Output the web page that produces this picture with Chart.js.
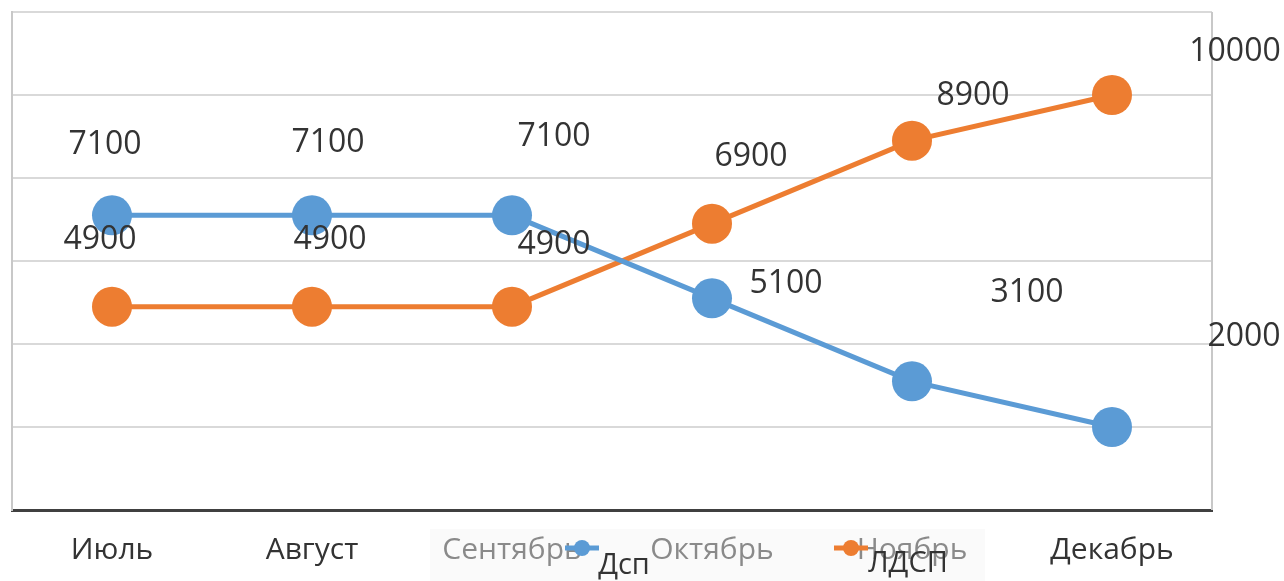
<!DOCTYPE html>
<html><head><meta charset="utf-8">
<script src="https://cdn.jsdelivr.net/npm/chart.js@4"></script>
<style>html,body{margin:0;padding:0;background:#fff}#w{width:1284px;height:581px}</style>
</head><body><div id="w"><canvas id="c" width="1284" height="581"></canvas></div>
<script>
const categories = ['Июль','Август','Сентябрь','Октябрь','Ноябрь','Декабрь'];
const dspValues = [7100, 7100, 7100, 5100, 3100, 2000];
const ldspValues = [4900, 4900, 4900, 6900, 8900, 10000];
const seriesNames = ['Дсп','ЛДСП'];
const yTicks = [0, 2000, 4000, 6000, 8000, 10000, 12000];

// label offsets (style only)
const labelOffsets = [
  [[-7,-70],[16,-72],[42,-78],[74,-14],[115,-88],[132,-90]],
  [[-12,-67],[18,-67],[42,-62],[39,-67],[61,-45],[123,-43]]
];
const FONT = '"Open Sans", sans-serif';

const decor = {
  id:'decor',
  beforeDatasetsDraw(chart){
    const {ctx, chartArea:a} = chart;
    ctx.save();
    ctx.strokeStyle='#c8c8c8'; ctx.lineWidth=2;
    ctx.beginPath(); ctx.moveTo(a.right,a.top); ctx.lineTo(a.right,a.bottom); ctx.stroke();
    ctx.restore();
  },
  afterDraw(chart){
    const {ctx} = chart;
    ctx.save();
    ctx.font = '32px '+FONT; ctx.fillStyle='#333333';
    ctx.textAlign='center'; ctx.textBaseline='middle';
    chart.data.datasets.forEach((ds,di)=>{
      const meta = chart.getDatasetMeta(di);
      meta.data.forEach((pt,i)=>{
        const o = labelOffsets[di][i];
        ctx.fillText(String(ds.data[i]), pt.x+o[0], pt.y+o[1]);
      });
    });
    ctx.fillStyle='rgba(243,243,243,0.45)';
    ctx.fillRect(430,529,555,52);
    const items=[{x:582,tx:624,ty:566,c:chart.data.datasets[0].borderColor,t:chart.data.datasets[0].label},
                 {x:851,tx:908,ty:564,c:chart.data.datasets[1].borderColor,t:chart.data.datasets[1].label}];
    items.forEach(it=>{
      ctx.strokeStyle=it.c; ctx.lineWidth=5;
      ctx.beginPath(); ctx.moveTo(it.x-17,548); ctx.lineTo(it.x+17,548); ctx.stroke();
      ctx.fillStyle=it.c; ctx.beginPath(); ctx.arc(it.x,548,8,0,Math.PI*2); ctx.fill();
      ctx.fillStyle='#333333'; ctx.font='29px '+FONT; ctx.textAlign='center';
      ctx.fillText(it.t,it.tx,it.ty);
    });
    ctx.restore();
  }
};

new Chart(document.getElementById('c'),{
  type:'line',
  data:{labels:categories,datasets:[
    {label:seriesNames[0],data:dspValues,borderColor:'#5B9BD5',backgroundColor:'#5B9BD5',borderWidth:5,pointRadius:20,pointHoverRadius:20,pointBorderWidth:0,tension:0},
    {label:seriesNames[1],data:ldspValues,borderColor:'#ED7D31',backgroundColor:'#ED7D31',borderWidth:5,pointRadius:20,pointHoverRadius:20,pointBorderWidth:0,tension:0}
  ]},
  options:{
    responsive:false,animation:false,
    layout:{autoPadding:false,padding:{left:12,right:72,top:12,bottom:0}},
    plugins:{legend:{display:false},tooltip:{enabled:false}},
    scales:{
      x:{offset:true,grid:{display:false},
         border:{display:true,color:'#404040',width:3},
         ticks:{color:'#333333',font:{family:FONT,size:30},padding:14,maxRotation:0,autoSkip:false},
         afterFit(s){s.height=71;}},
      y:{min:yTicks[0],max:yTicks[yTicks.length-1],
         afterBuildTicks(s){s.ticks=yTicks.map(v=>({value:v}));},
         ticks:{display:false},
         grid:{color:'#d9d9d9',lineWidth:2,drawTicks:false},
         border:{display:true,color:'#c8c8c8',width:2},
         afterFit(s){s.width=0;}}
    }
  },
  plugins:[decor]
});
</script></body></html>
